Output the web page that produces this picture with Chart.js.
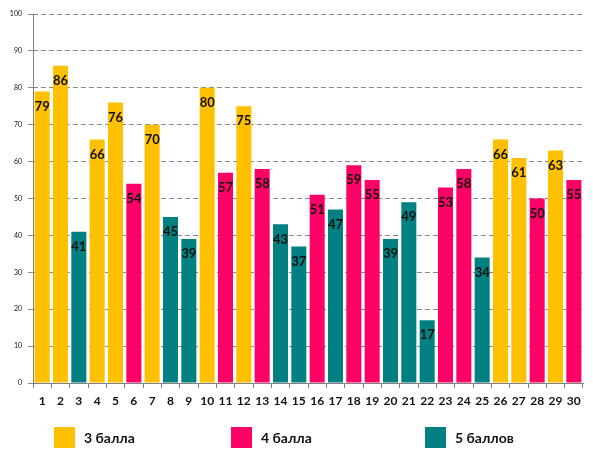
<!DOCTYPE html>
<html><head><meta charset="utf-8">
<script src="https://cdn.jsdelivr.net/npm/chart.js@4"></script>
<style>
html,body{margin:0;padding:0;background:#fff;}
#wrap{position:relative;width:593px;height:461px;}
canvas{position:absolute;left:0;top:0;}
.lg{position:absolute;top:427px;font:bold 14px Lato, sans-serif;color:#111;display:flex;align-items:center;}
.lg span.b{display:inline-block;width:21px;height:21px;margin-right:9px;}
</style></head>
<body>
<div id="wrap">
<canvas id="c" width="593" height="461"></canvas>
<div class="lg" style="left:54px"><span class="b" style="background:#FFC000"></span>3 балла</div>
<div class="lg" style="left:231px"><span class="b" style="background:#FF0066"></span>4 балла</div>
<div class="lg" style="left:425px"><span class="b" style="background:#008080"></span>5 баллов</div>
</div>
<script>
const categories = ['1','2','3','4','5','6','7','8','9','10','11','12','13','14','15','16','17','18','19','20','21','22','23','24','25','26','27','28','29','30'];
const grade3 = [79,86,null,66,76,null,70,null,null,80,null,75,null,null,null,null,null,null,null,null,null,null,null,null,null,66,61,null,63,null];
const grade4 = [null,null,null,null,null,54,null,null,null,null,57,null,58,null,null,51,null,59,55,null,null,null,53,58,null,null,null,50,null,55];
const grade5 = [null,null,41,null,null,null,null,45,39,null,null,null,null,43,37,null,47,null,null,39,49,17,null,null,34,null,null,null,null,null];
const yTicks = [0,10,20,30,40,50,60,70,80,90,100];
const seriesNames = ['3 балла','4 балла','5 баллов'];

const labelPlugin = {
  id:'vals',
  afterDatasetsDraw(chart){
    const ctx = chart.ctx;
    ctx.save();
    ctx.font = 'bold 13px Lato, sans-serif';
    ctx.fillStyle = '#111';
    ctx.textAlign = 'center';
    ctx.textBaseline = 'middle';
    chart.data.datasets.forEach((ds,i)=>{
      const meta = chart.getDatasetMeta(i);
      meta.data.forEach((bar,j)=>{
        const v = ds.data[j];
        if(v===null||v===undefined) return;
        ctx.fillText(String(v), bar.x, bar.y+15);
      });
    });
    ctx.restore();
  }
};

new Chart(document.getElementById('c'), {
  type:'bar',
  data:{
    labels:categories,
    datasets:[
      {label:seriesNames[0], data:grade3, backgroundColor:'#FFC000'},
      {label:seriesNames[1], data:grade4, backgroundColor:'#FF0066'},
      {label:seriesNames[2], data:grade5, backgroundColor:'#008080'}
    ]
  },
  options:{
    responsive:false,
    animation:false,
    devicePixelRatio:1,
    skipNull:true,
    categoryPercentage:0.82,
    barPercentage:1,
    layout:{padding:{left:0,right:10,top:14,bottom:43}},
    plugins:{legend:{display:false},tooltip:{enabled:false}},
    scales:{
      x:{
        grid:{display:true,drawOnChartArea:false,color:'#808080',tickLength:5},
        border:{color:'#808080',width:1},
        ticks:{font:{family:'Lato',size:12,weight:'bold'},color:'#111',padding:6,maxRotation:0,autoSkip:false},
        afterFit(s){s.height=35;}
      },
      y:{
        min:0,max:100,
        afterBuildTicks(s){s.ticks = yTicks.map(v=>({value:v}));},
        grid:{color:'#8a8a8a',tickLength:5,lineWidth:1},
        border:{display:false,dash:[5,3]},
        ticks:{font:{family:'Lato',size:7},color:'#111',padding:6},
        afterFit(s){s.width=33;}
      }
    }
  },
  plugins:[labelPlugin,{
    id:'yline',
    afterDatasetsDraw(chart){
      const a=chart.chartArea, ctx=chart.ctx;
      ctx.save();ctx.strokeStyle='#808080';ctx.lineWidth=1;
      ctx.beginPath();ctx.moveTo(a.left+0.5,a.top);ctx.lineTo(a.left+0.5,a.bottom);ctx.stroke();
      ctx.restore();
    }
  }]
});
</script>
</body></html>
